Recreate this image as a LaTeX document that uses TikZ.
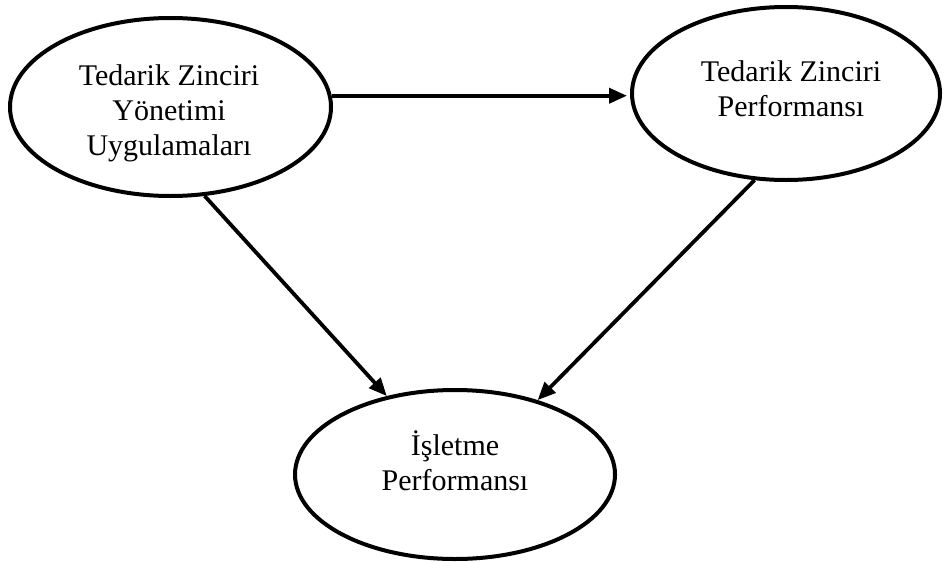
\documentclass[tikz,border=0pt]{standalone}
\usepackage{fontspec}
\setmainfont{Liberation Serif}
\usetikzlibrary{shapes.geometric,arrows.meta}

\tikzset{
  oval/.style={draw=black, line width=4pt, ellipse, inner sep=0pt},
  caption/.style={align=center, font=\fontsize{30}{35}\selectfont, inner sep=0pt},
  link/.style={line width=3.8pt, -{Triangle[length=18pt,width=15pt]}}
}

\begin{document}
\begin{tikzpicture}[x=1pt,y=-1pt]
  \useasboundingbox (0,0) rectangle (944,562);

  % the three constructs
  \node[oval, minimum width=321pt, minimum height=178pt] (szy) at (170.5,107) {};
  \node[oval, minimum width=308pt, minimum height=173pt] (szp) at (786,93.5) {};
  \node[oval, minimum width=320pt, minimum height=169pt] (ip)  at (455,474.5) {};

  \node[caption] (szyt) at (169,113) {Tedarik Zinciri\\Yönetimi\\Uygulamaları};
  \node[caption] (szpt) at (791,89)  {Tedarik Zinciri\\Performansı};
  \node[caption] (ipt)  at (455,461) {İşletme\\Performansı};

  % relations
  \draw[link, shorten >=3pt] (szy.4.3) -- (szy.4.3 -| szp.west);
  \draw[link] (szy.-69) -- (ip.131);
  \draw[link] (szp.-110.8) -- (ip.42);
\end{tikzpicture}
\end{document}
